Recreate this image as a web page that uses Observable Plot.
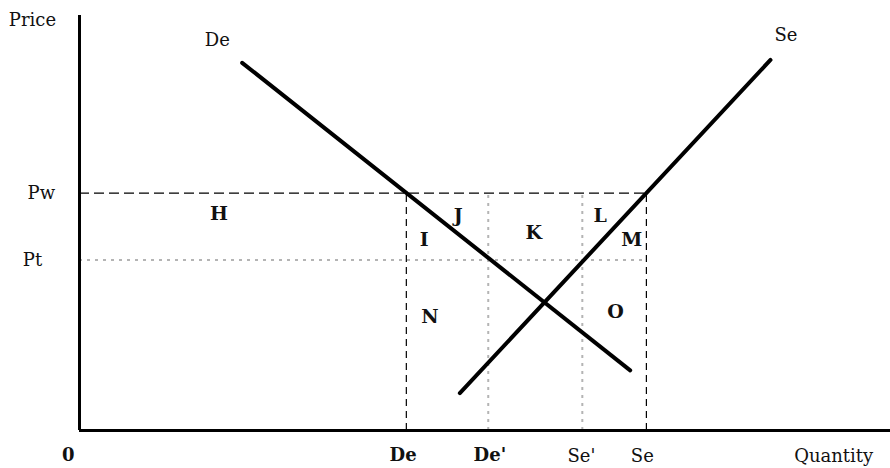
<!DOCTYPE html>
<html>
<head>
<meta charset="utf-8">
<script src="https://cdn.jsdelivr.net/npm/d3@7"></script>
<script src="https://cdn.jsdelivr.net/npm/@observablehq/plot@0.6"></script>
<style>
  html, body { margin: 0; padding: 0; background: #fff; }
  #chart svg { display: block; }
</style>
</head>
<body>
<div id="chart"></div>
<script>
// ---- Data (quantity / price units) ----
const priceLevels = [{name: "Pw", p: 57.2, style: "dash"}, {name: "Pt", p: 41.1, style: "dot"}];
const quantityMarks = [
  {name: "De",  q: 40.3, style: "dash"},
  {name: "De'", q: 50.4, style: "dot"},
  {name: "Se'", q: 62.0, style: "dot"},
  {name: "Se",  q: 69.9, style: "dash"}
];
const demandLine = [{q: 20.06, p: 88.6}, {q: 67.9, p: 14.5}];
const supplyLine = [{q: 46.9, p: 9.0}, {q: 85.2, p: 89.3}];
const curveLabels = [{text: "De", q: 17.0, p: 94.0}, {text: "Se", q: 87.1, p: 95.2}];
const areaLetters = [
  {text: "H", q: 17.2, p: 52.3},
  {text: "J", q: 46.7, p: 51.8},
  {text: "I", q: 42.5, p: 46.0},
  {text: "K", q: 56.0, p: 47.5},
  {text: "L", q: 64.2, p: 51.6},
  {text: "M", q: 68.1, p: 46.0},
  {text: "N", q: 43.2, p: 27.3},
  {text: "O", q: 66.1, p: 28.5}
];
const leftLabels = [
  {text: "Price", q: -5.8, p: 98.8},
  {text: "Pw", q: -4.7, p: 57.2},
  {text: "Pt", q: -5.8, p: 41.1}
];
const bottomLabels = [
  {text: "0",   q: -1.4, bold: true},
  {text: "De",  q: 39.9, bold: true},
  {text: "De'", q: 50.6, bold: true},
  {text: "Se'", q: 61.9, bold: false},
  {text: "Se",  q: 69.4, bold: false},
  {text: "Quantity", q: 93.0, bold: false}
];
const qMax = 100, pMax = 100;
const seQ = quantityMarks.find(d => d.name === "Se").q;
const pw = priceLevels.find(d => d.name === "Pw").p;

const serif = "'DejaVu Serif', 'Liberation Serif', serif";

const chart = Plot.plot({
  width: 890,
  height: 468,
  marginLeft: 79,
  marginRight: 0,
  marginTop: 15,
  marginBottom: 38,
  x: {domain: [0, qMax], axis: null},
  y: {domain: [0, pMax], axis: null},
  style: {fontFamily: serif, background: "#fff"},
  marks: [
    // horizontal price lines
    Plot.ruleY(priceLevels.filter(d => d.style === "dash"), {y: "p", x1: 0, x2: seQ, stroke: "#000", strokeWidth: 1.2, strokeDasharray: "10,5"}),
    Plot.ruleY(priceLevels.filter(d => d.style === "dot"), {y: "p", x1: 0, x2: seQ, stroke: "#b4b4b4", strokeWidth: 2, strokeDasharray: "3,5"}),
    // vertical quantity lines
    Plot.ruleX(quantityMarks.filter(d => d.style === "dash"), {x: "q", y1: 0, y2: pw, stroke: "#000", strokeWidth: 1.2, strokeDasharray: "7,5"}),
    Plot.ruleX(quantityMarks.filter(d => d.style === "dot"), {x: "q", y1: 0, y2: pw, stroke: "#b4b4b4", strokeWidth: 2, strokeDasharray: "3,5"}),
    // demand and supply
    Plot.line(demandLine, {x: "q", y: "p", stroke: "#000", strokeWidth: 4, strokeLinecap: "round"}),
    Plot.line(supplyLine, {x: "q", y: "p", stroke: "#000", strokeWidth: 4, strokeLinecap: "round"}),
    // axes
    Plot.ruleX([0], {y1: 0, y2: pMax, stroke: "#000", strokeWidth: 3}),
    Plot.ruleY([0], {x1: 0, x2: qMax, stroke: "#000", strokeWidth: 3}),
    // labels
    Plot.text(curveLabels, {x: "q", y: "p", text: "text", fontSize: 18, fill: "#111"}),
    Plot.text(areaLetters, {x: "q", y: "p", text: "text", fontSize: 19, fontWeight: "bold", fill: "#111"}),
    Plot.text(leftLabels, {x: "q", y: "p", text: "text", fontSize: 18, fill: "#111"}),
    Plot.text(bottomLabels.filter(d => d.bold), {x: "q", y: () => -6.0, text: "text", fontSize: 18, fontWeight: "bold", fill: "#111"}),
    Plot.text(bottomLabels.filter(d => !d.bold), {x: "q", y: () => -6.2, text: "text", fontSize: 18, fill: "#111"})
  ]
});
document.getElementById("chart").appendChild(chart);
</script>
</body>
</html>
